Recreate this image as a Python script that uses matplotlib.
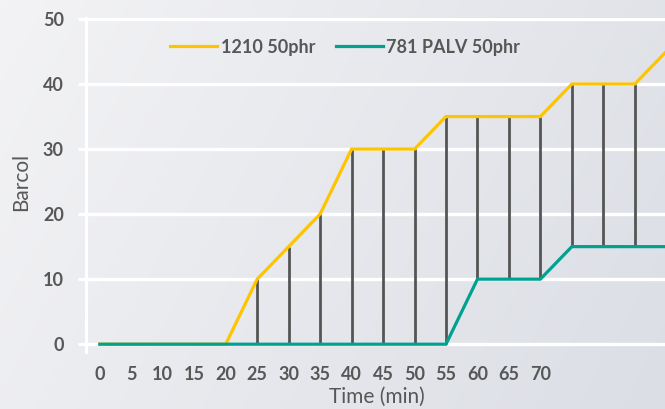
import matplotlib
matplotlib.use("Agg")
import matplotlib.pyplot as plt
import numpy as np
from matplotlib.colors import LinearSegmentedColormap

plt.rcParams["font.family"] = ["Lato", "DejaVu Sans"]

minutes = [0, 5, 10, 15, 20, 25, 30, 35, 40, 45, 50, 55, 60, 65, 70, 75, 80, 85, 90]
barcol_1210 = [0, 0, 0, 0, 0, 10, 15, 20, 30, 30, 30, 35, 35, 35, 35, 40, 40, 40, 45]
barcol_781 = [0, 0, 0, 0, 0, 0, 0, 0, 0, 0, 0, 0, 10, 10, 10, 15, 15, 15, 15]
x_ticks = [0, 5, 10, 15, 20, 25, 30, 35, 40, 45, 50, 55, 60, 65, 70]
y_ticks = [0, 10, 20, 30, 40, 50]

YELLOW = "#ffc400"
TEAL = "#00a191"
TEXT = "#575757"

W, H = 665, 409
fig = plt.figure(figsize=(W / 100, H / 100), dpi=100)

# soft gray gradient background
bg = fig.add_axes([0, 0, 1, 1], zorder=-10)
gx, gy = np.meshgrid(np.linspace(0, 1, 200), np.linspace(0, 1, 200))
grad = 0.75 * gx + 0.25 * gy
cmap = LinearSegmentedColormap.from_list("bg", ["#f3f3f5", "#dbdee5"])
bg.imshow(grad, cmap=cmap, aspect="auto", extent=[0, 1, 0, 1], origin="upper")
bg.set_axis_off()

left, right, top, bottom = 86, 665, 18, 352
ax = fig.add_axes([left / W, (H - bottom) / H, (right - left) / W, (bottom - top) / H])
ax.patch.set_alpha(0)
ax.set_xlim(-2.2, 89.8)
ax.set_ylim(-1.2, 50.15)

for s in ["top", "right", "bottom"]:
    ax.spines[s].set_visible(False)
ax.spines["left"].set_color("white")
ax.spines["left"].set_linewidth(2.2)

ax.set_yticks(y_ticks)
ax.set_xticks(x_ticks)
ax.grid(True, axis="y", color="white", linewidth=2.4)
ax.tick_params(axis="y", length=6, width=2.2, color="white", pad=10,
               labelsize=13, labelcolor=TEXT)
ax.tick_params(axis="x", length=0, pad=10, labelsize=13, labelcolor=TEXT)
for lab in ax.get_xticklabels() + ax.get_yticklabels():
    lab.set_fontweight("bold")

ax.vlines(minutes[5:], barcol_781[5:], barcol_1210[5:], color="#555555", linewidth=2, zorder=2)
ax.plot(minutes, barcol_1210, color=YELLOW, linewidth=2.3, label="1210 50phr",
        solid_joinstyle="miter", zorder=3)
ax.plot(minutes, barcol_781, color=TEAL, linewidth=2.3, label="781 PALV 50phr",
        solid_joinstyle="miter", zorder=4)

ax.set_ylabel("Barcol", fontsize=15, color=TEXT)
ax.yaxis.set_label_coords(-(left - 31) / (right - left), (352 - 182) / (bottom - top))
ax.set_xlabel("Time (min)", fontsize=15, color=TEXT)
ax.xaxis.set_label_coords((377 - left) / (right - left), -(397 - bottom) / (bottom - top))
ax.xaxis.label.set_va("center")

leg = ax.legend(ncol=2, frameon=False, loc="center left",
                bbox_to_anchor=(154 / W, 1 - 47 / H), bbox_transform=fig.transFigure,
                handlelength=2.6, handletextpad=0.2, columnspacing=1.15,
                prop={"size": 13, "weight": "bold"})
for t in leg.get_texts():
    t.set_color(TEXT)

fig.savefig("out.png", dpi=100)
